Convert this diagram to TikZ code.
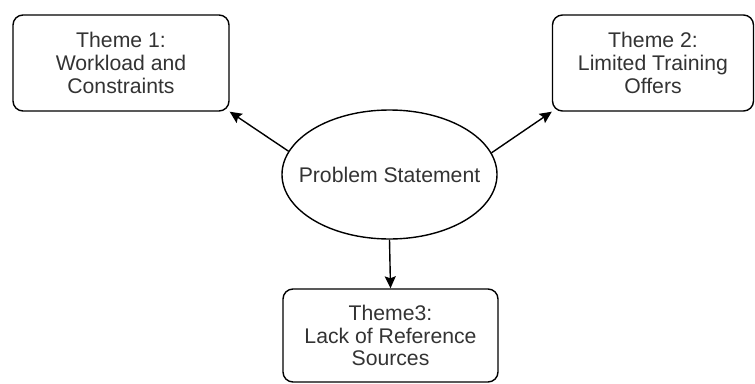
\documentclass[tikz,border=0pt]{standalone}
\usepackage{fontspec}
\setmainfont{Liberation Sans}
\usetikzlibrary{arrows.meta,shapes.geometric}
\definecolor{txt}{HTML}{333333}
\tikzset{
  theme/.style={draw=black, line width=1.4pt, rounded corners=10pt, align=center,
    text=txt, font=\fontsize{21.2pt}{22.8pt}\selectfont, inner sep=0pt},
  ell/.style={draw=black, line width=1.4pt, ellipse, inner xsep=-25pt, inner ysep=0pt,
    text=txt, font=\fontsize{21.2pt}{22.8pt}\selectfont},
  conn/.style={line width=1.4pt, -{Stealth[length=12pt,width=11pt,inset=2pt]}}
}
\begin{document}
\begin{tikzpicture}[x=1pt,y=-1pt]
\useasboundingbox (0,0) rectangle (755,383);
\node[theme, minimum width=216pt, minimum height=96pt] (b1) at (121,63) {Theme 1:\\Workload and\\Constraints};
\node[theme, minimum width=201pt, minimum height=96pt] (b2) at (653,63) {Theme 2:\\Limited Training\\Offers};
\node[theme, minimum width=215pt, minimum height=93pt] (b3) at (390.5,335.5) {Theme3:\\Lack of Reference\\Sources};
\node[ell, minimum width=215pt, minimum height=129pt] (ps) at (389.5,174.5) {Problem Statement};
\draw[conn] (ps.167) -- (b1.south east);
\draw[conn] (ps.12) -- (b2.south west);
\draw[conn] (ps.south) -- (b3.north);
\end{tikzpicture}
\end{document}
